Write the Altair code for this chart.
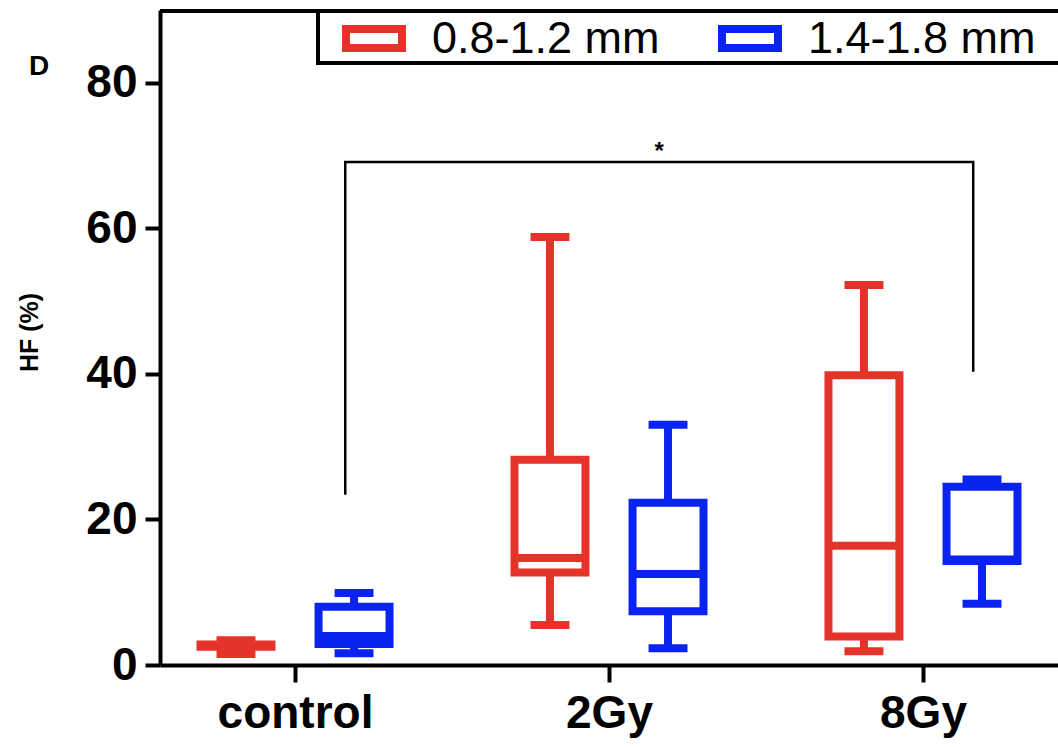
import altair as alt
import pandas as pd

# ---------------- data ----------------
groups = ["control", "2Gy", "8Gy"]
series = ["0.8-1.2 mm", "1.4-1.8 mm"]
colors = ["#E5332A", "#0A23F0"]

red_min = [1.5, 5.5, 1.9]
red_q1 = [2.5, 12.7, 3.9]
red_med = [2.6, 14.7, 16.4]
red_q3 = [2.8, 28.2, 39.8]
red_max = [3.4, 58.8, 52.2]

blue_min = [1.6, 2.3, 8.4]
blue_q1 = [2.9, 7.4, 14.3]
blue_med = [4.0, 12.5, 14.5]
blue_q3 = [8.0, 22.3, 24.5]
blue_max = [9.9, 33.0, 25.5]

# significance bracket (between control and 8Gy), in group units / HF %
bracket_group = ["control", "control", "8Gy", "8Gy"]
bracket_y = [23.4, 69.1, 69.1, 40.3]
star_label = "*"
panel_label = "D"
y_ticks = [0, 20, 40, 60, 80]

# ---------------- layout ----------------
W, H = 898, 655
PAD_L, PAD_T = 160, 10
FONT = "Liberation Sans, Arial, sans-serif"
BOX_OFF, BOX_HALF, CAP_HALF, BR_OFF = 0.188, 0.113, 0.062, 0.16
SW = 8

stats = {
    series[0]: (red_min, red_q1, red_med, red_q3, red_max),
    series[1]: (blue_min, blue_q1, blue_med, blue_q3, blue_max),
}
rows = []
for si, s in enumerate(series):
    mn, q1, md, q3, mx = stats[s]
    off = -BOX_OFF if si == 0 else BOX_OFF
    for gi, g in enumerate(groups):
        pos = gi + off
        rows.append(dict(group=g, series=s, pos=pos,
                         box_l=pos - BOX_HALF, box_r=pos + BOX_HALF,
                         cap_l=pos - CAP_HALF, cap_r=pos + CAP_HALF,
                         mn=mn[gi], q1=q1[gi], med=md[gi], q3=q3[gi], mx=mx[gi]))
df = pd.DataFrame(rows)

xscale = alt.Scale(domain=[-0.43, 2.43], nice=False, zero=False)
yscale = alt.Scale(domain=[0, 90], nice=False, zero=False)
label_expr = "[" + ",".join("'%s'" % g for g in groups) + "][datum.value]"
xaxis = alt.Axis(values=[0, 1, 2], labelExpr=label_expr, title="", grid=False,
                 domainColor="black", domainWidth=4, tickColor="black", tickWidth=4,
                 tickSize=17, labelFont=FONT, labelFontSize=46, labelFontWeight="bold",
                 labelColor="black", labelPadding=9)
yaxis = alt.Axis(values=y_ticks, title="HF (%)", grid=False,
                 domainColor="black", domainWidth=4, tickColor="black", tickWidth=4,
                 tickSize=15, labelFont=FONT, labelFontSize=46, labelFontWeight="bold",
                 labelColor="black", labelPadding=8,
                 titleFont=FONT, titleFontSize=25, titleFontWeight="bold", titleColor="black",
                 titleX=-131, titleY=322, titleBaseline="middle", titleAlign="center")


def X(f):
    return alt.X(f + ":Q", scale=xscale, axis=xaxis)


def Y(f):
    return alt.Y(f + ":Q", scale=yscale, axis=yaxis)


stroke = alt.Stroke("series:N", scale=alt.Scale(domain=series, range=colors), legend=None)

base = alt.Chart(df)
whisk_hi = base.mark_rule(strokeWidth=SW, strokeCap="butt").encode(
    x=X("pos"), y=Y("q3"), y2="mx:Q", stroke=stroke)
whisk_lo = base.mark_rule(strokeWidth=SW, strokeCap="butt").encode(
    x=X("pos"), y=Y("q1"), y2="mn:Q", stroke=stroke)
cap_hi = base.mark_rule(strokeWidth=SW, strokeCap="butt").encode(
    x=X("cap_l"), x2="cap_r:Q", y=Y("mx"), stroke=stroke)
cap_lo = base.mark_rule(strokeWidth=SW, strokeCap="butt").encode(
    x=X("cap_l"), x2="cap_r:Q", y=Y("mn"), stroke=stroke)
box = base.mark_rect(fill="white", strokeWidth=SW).encode(
    x=X("box_l"), x2="box_r:Q", y=Y("q1"), y2="q3:Q", stroke=stroke)
median = base.mark_rule(strokeWidth=SW, strokeCap="butt").encode(
    x=X("box_l"), x2="box_r:Q", y=Y("med"), stroke=stroke)

# bracket
br_df = pd.DataFrame({
    "bx": [groups.index(g) + BR_OFF for g in bracket_group],
    "by": bracket_y,
    "o": list(range(len(bracket_y))),
})
bracket = alt.Chart(br_df).mark_line(color="black", strokeWidth=2.5, strokeJoin="miter").encode(
    x=X("bx"), y=Y("by"), order="o:Q")
star_df = pd.DataFrame({"sx": [(br_df.bx.iloc[0] + br_df.bx.iloc[-1]) / 2],
                        "sy": [max(bracket_y) - 0.2], "t": [star_label]})
star = alt.Chart(star_df).mark_text(font=FONT, fontSize=24, fontWeight="bold", color="black",
                                    baseline="bottom", align="center").encode(
    x=X("sx"), y=Y("sy"), text="t:N")

one = alt.Data(values=[{"k": 0}])
frame_top = alt.Chart(one).mark_rule(color="black", strokeWidth=4).encode(
    x=alt.value(0), x2=alt.value(W), y=alt.value(1))

# legend (drawn by hand, GraphPad style)
leg_box = alt.Chart(one).mark_rect(fill="white", stroke="black", strokeWidth=4).encode(
    x=alt.value(158), x2=alt.value(W + 10), y=alt.value(1), y2=alt.value(53))
leg_layers = []
sym_x = [186, 562]
txt_x = [272, 648]
for i, s in enumerate(series):
    d = alt.Data(values=[{"label": s}])
    leg_layers.append(alt.Chart(d).mark_rect(fill="white", stroke=colors[i], strokeWidth=SW).encode(
        x=alt.value(sym_x[i]), x2=alt.value(sym_x[i] + 56), y=alt.value(19), y2=alt.value(38)))
    leg_layers.append(alt.Chart(d).mark_text(font=FONT, fontSize=45, color="black",
                                             align="left", baseline="alphabetic").encode(
        x=alt.value(txt_x[i]), y=alt.value(43), text="label:N"))

panel = alt.Chart(alt.Data(values=[{"t": panel_label}])).mark_text(
    font=FONT, fontSize=28, fontWeight="bold", color="black", align="center", baseline="middle").encode(
    x=alt.value(-121), y=alt.value(57), text="t:N")

chart = alt.layer(
    whisk_hi, whisk_lo, cap_hi, cap_lo, box, median, bracket, star,
    frame_top, leg_box, *leg_layers, panel
).properties(
    width=W, height=H,
    padding={"left": PAD_L, "top": PAD_T, "right": 0, "bottom": 747 - PAD_T - H},
    autosize=alt.AutoSizeParams(type="none"),
    background="white",
).configure_view(strokeWidth=0)

chart.save("out.html", embed_options={"renderer": "svg", "actions": False})
